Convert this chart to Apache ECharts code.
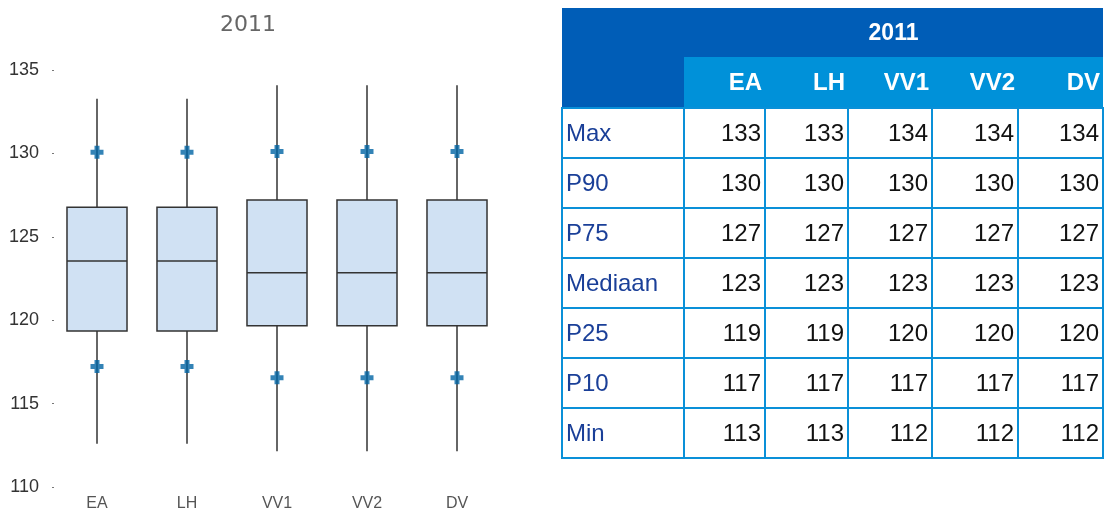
<!DOCTYPE html>
<html>
<head>
<meta charset="utf-8">
<script src="https://cdn.jsdelivr.net/npm/echarts@6/dist/echarts.min.js"></script>
<style>
  html, body { margin: 0; padding: 0; background: #fff; }
  #chart { position: absolute; left: 0; top: 0; width: 1105px; height: 512px; }
  #tbl { position: absolute; left: 561px; top: 8px; border-collapse: collapse; table-layout: fixed;
         font-family: "Liberation Sans", Arial, sans-serif; font-size: 24px; }
  #tbl td { border: 2px solid #0a90d8; height: 48px; padding: 0 3px 0 3px; text-align: right; color: #111; line-height: 48px; }
  #tbl td.lab { text-align: left; color: #1a3f98; }
  #tbl th { background: #0091d9; color: #fff; font-weight: bold; text-align: right; padding: 0 3px; height: 50px; border: none; }
  #tbl th.dark { background: #005db7; }
  #tbl th.yr { background: #005db7; text-align: center; font-size: 23px; height: 49px; }
</style>
</head>
<body>
<div id="chart"></div>
<table id="tbl"></table>
<script>
// ---- data ----
var title = '2011';
var categories = ['EA', 'LH', 'VV1', 'VV2', 'DV'];
var minVals    = [112.6, 112.6, 112.14, 112.14, 112.14];
var p10Vals    = [117.23, 117.23, 116.55, 116.55, 116.55];
var p25Vals    = [119.36, 119.36, 119.66, 119.66, 119.66];
var medianVals = [123.55, 123.55, 122.85, 122.85, 122.85];
var p75Vals    = [126.77, 126.77, 127.2, 127.2, 127.2];
var p90Vals    = [130.07, 130.07, 130.12, 130.12, 130.12];
var maxVals    = [133.27, 133.27, 134.09, 134.09, 134.09];

// table (as printed, rounded)
var rowLabels = ['Max', 'P90', 'P75', 'Mediaan', 'P25', 'P10', 'Min'];
var tMax    = [133, 133, 134, 134, 134];
var tP90    = [130, 130, 130, 130, 130];
var tP75    = [127, 127, 127, 127, 127];
var tMedian = [123, 123, 123, 123, 123];
var tP25    = [119, 119, 120, 120, 120];
var tP10    = [117, 117, 117, 117, 117];
var tMin    = [113, 113, 112, 112, 112];

// ---- table ----
(function () {
  var colW = [122, 81, 83, 84, 86, 85];
  var tbl = document.getElementById('tbl');
  var html = '<colgroup>' + colW.map(function (w) { return '<col style="width:' + w + 'px">'; }).join('') + '</colgroup>';
  html += '<tr><th class="dark" rowspan="2"></th><th class="yr" colspan="' + categories.length + '">' + title + '</th></tr>';
  html += '<tr>' + categories.map(function (c) { return '<th>' + c + '</th>'; }).join('') + '</tr>';
  var rows = [tMax, tP90, tP75, tMedian, tP25, tP10, tMin];
  rows.forEach(function (r, i) {
    html += '<tr><td class="lab">' + rowLabels[i] + '</td>' + r.map(function (v) { return '<td>' + v + '</td>'; }).join('') + '</tr>';
  });
  tbl.innerHTML = html;
})();

// ---- chart ----
var boxData = categories.map(function (c, i) {
  return [i, minVals[i], p25Vals[i], medianVals[i], p75Vals[i], maxVals[i]];
});
var pctData = [];
categories.forEach(function (c, i) {
  pctData.push([i, p10Vals[i]]);
  pctData.push([i, p90Vals[i]]);
});

var chart = echarts.init(document.getElementById('chart'), null, { renderer: 'canvas' });
chart.setOption({
  animation: false,
  backgroundColor: '#fff',
  title: {
    text: title, left: 215, top: 9,
    textStyle: { fontFamily: 'DejaVu Sans', fontSize: 22, fontWeight: 'normal', color: '#666' }
  },
  grid: { left: 52, width: 450, top: 70, bottom: 23 },
  xAxis: {
    type: 'category', data: categories,
    axisLine: { show: false }, axisTick: { show: false }, splitLine: { show: false },
    axisLabel: { margin: 9, fontFamily: 'Liberation Sans', fontSize: 16, color: '#555' }
  },
  yAxis: {
    type: 'value', min: 110, max: 135, interval: 5,
    axisLine: { show: false },
    axisTick: { show: true, inside: true, length: 2, lineStyle: { color: '#777', width: 1 } },
    splitLine: { show: false },
    axisLabel: { margin: 13, fontFamily: 'Liberation Sans', fontSize: 18, color: '#333' }
  },
  series: [
    {
      type: 'custom',
      data: boxData,
      encode: { x: 0, y: [1, 2, 3, 4, 5] },
      renderItem: function (params, api) {
        var x = api.value(0);
        var lo = api.coord([x, api.value(1)]);
        var q1 = api.coord([x, api.value(2)]);
        var md = api.coord([x, api.value(3)]);
        var q3 = api.coord([x, api.value(4)]);
        var hi = api.coord([x, api.value(5)]);
        var bw = api.size([1, 0])[0] * 0.667;
        var cx = lo[0];
        var stroke = { stroke: '#333', lineWidth: 1.5 };
        return {
          type: 'group',
          children: [
            { type: 'line', shape: { x1: cx, y1: lo[1], x2: cx, y2: hi[1] }, style: stroke },
            { type: 'rect', shape: { x: cx - bw / 2, y: q3[1], width: bw, height: q1[1] - q3[1] },
              style: { fill: '#d0e1f3', stroke: '#333', lineWidth: 1.5 } },
            { type: 'line', shape: { x1: cx - bw / 2, y1: md[1], x2: cx + bw / 2, y2: md[1] }, style: stroke }
          ]
        };
      },
      z: 2
    },
    {
      type: 'scatter',
      data: pctData,
      symbol: 'path://M4,0H9V4H13V9H9V13H4V9H0V4H4Z',
      symbolSize: 13,
      itemStyle: { color: '#0064a4' },
      z: 3
    }
  ]
});
</script>
</body>
</html>
